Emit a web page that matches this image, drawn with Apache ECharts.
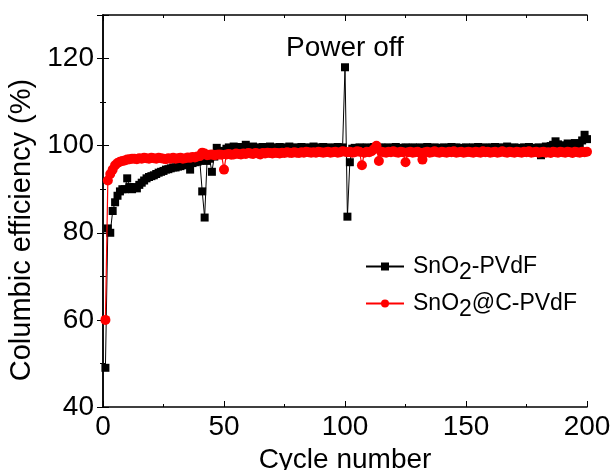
<!DOCTYPE html>
<html>
<head>
<meta charset="utf-8">
<script src="https://cdn.jsdelivr.net/npm/echarts@6/dist/echarts.min.js"></script>
<style>
html, body { margin: 0; padding: 0; background: #fff; }
#main { width: 612px; height: 470px; }
</style>
</head>
<body>
<div id="main"></div>
<script>
// coulombic efficiency (%) per cycle, cycles 1..200
var pvdf = [
  49, 81, 80, 85, 87, 88.5, 89.5, 90, 90, 92.5,
  90.5, 90, 90.5, 90.2, 91, 91.5, 92, 92.5, 92.8, 93,
  93.2, 93.5, 93.8, 94, 94.2, 94.5, 94.6, 94.8, 95, 95,
  95.2, 95.3, 95.5, 95.6, 95.8, 94.5, 96, 96.2, 96.3, 96.5,
  89.5, 83.5, 96.5, 97, 94, 97.5, 99.5, 98.5, 98.5, 98.8,
  99.3, 99.6, 99.2, 99.8, 99.5, 99.4, 99.7, 99.3, 100.2, 99.6,
  99.5, 99.8, 99.4, 99.6, 99.3, 99.7, 99.5, 99.4, 99.8, 99.6,
  99.3, 99.5, 99.7, 99.4, 99.6, 99.5, 99.8, 99.3, 99.6, 99.5,
  99.4, 99.7, 99.5, 99.6, 99.3, 99.5, 99.8, 99.4, 99.6, 99.5,
  99.7, 99.4, 99.5, 99.6, 99.3, 99.5, 99.7, 99.4, 99.6, 118,
  83.7, 96.2, 99.3, 99.5, 99.4, 99.6, 99.5, 99.3, 99.6, 99.4,
  99.5, 99.7, 99.4, 99.5, 99.6, 99.3, 99.5, 99.6, 99.4, 99.5,
  99.7, 99.4, 99.5, 99.3, 99.6, 99.5, 99.4, 99.6, 99.5, 99.3,
  99.6, 99.5, 99.4, 99.7, 99.5, 99.4, 99.6, 99.5, 99.3, 99.5,
  99.6, 99.4, 99.5, 99.7, 99.5, 99.6, 99.4, 99.5, 99.3, 99.6,
  99.5, 99.4, 99.6, 99.5, 99.7, 99.4, 99.5, 99.6, 99.3, 99.5,
  99.6, 99.7, 99.5, 99.4, 99.6, 99.5, 99.8, 99.4, 99.5, 99.6,
  99.3, 99.5, 99.4, 99.6, 99.5, 99.7, 99.4, 99.3, 99.5, 99.6,
  97.8, 99.5, 99.8, 99.6, 99.9, 100.2, 101, 100.3, 99.8, 100.1,
  99.7, 100.5, 99.9, 100.2, 100.6, 99.8, 100.4, 101.2, 102.5, 101.5
];
var carbon = [
  60, 92, 93.5, 94.5, 95.5, 96, 96.3, 96.5, 96.6, 96.8,
  96.9, 97, 97, 96.9, 97.1, 97, 97.2, 97.1, 97, 97.2,
  97.1, 97, 97.2, 97.1, 97, 96.9, 97.1, 97, 97.2, 97,
  97.1, 97.2, 97, 97.1, 97.3, 97.2, 97.4, 97.3, 97.5, 97.6,
  98.4, 98.2, 97.8, 97.9, 98, 97.8, 97.9, 98, 97.9, 94.5,
  98, 98.1, 97.9, 98, 98.2, 98.1, 98, 98.2, 98.1, 98.3,
  98.2, 98.1, 98.3, 98.2, 98, 98.3, 98.2, 98.4, 98.3, 98.2,
  98.4, 98.3, 98.2, 98.4, 98.3, 98.5, 98.4, 98.3, 98.5, 98.4,
  98.3, 98.5, 98.4, 98.6, 98.5, 98.4, 98.5, 98.4, 98.6, 98.5,
  98.4, 98.5, 98.6, 98.4, 98.5, 98.6, 98.4, 98.5, 98.7, 98.6,
  98.5, 98.6, 98.4, 98.5, 98.7, 98.6, 95.5, 98.4, 98.6, 98.5,
  98.7, 99.2, 100, 96.5, 98.6, 98.5, 98.4, 98.6, 98.5, 98.7,
  98.5, 98.4, 98.6, 98.5, 96.2, 98.5, 98.6, 98.4, 98.5, 98.6,
  98.4, 96.8, 98.5, 98.6, 98.4, 98.5, 98.7, 98.5, 98.4, 98.6,
  98.5, 98.4, 98.6, 98.5, 98.7, 98.4, 98.5, 98.6, 98.4, 98.5,
  98.6, 98.5, 98.4, 98.6, 98.5, 98.4, 98.7, 98.5, 98.6, 98.4,
  98.5, 98.6, 98.4, 98.5, 98.7, 98.5, 98.4, 98.6, 98.5, 98.4,
  98.6, 98.5, 98.4, 98.6, 98.5, 98.7, 98.4, 98.5, 98.6, 98.4,
  98.5, 98.6, 98.4, 98.5, 98.3, 98.6, 98.5, 98.4, 98.6, 98.5,
  98.4, 98.6, 98.5, 98.3, 98.6, 98.5, 98.4, 98.6, 98.5, 98.6
];
var seriesNames = ['SnO2-PVdF', 'SnO2@C-PVdF'];

function pairs(arr) {
  var out = [];
  for (var i = 0; i < arr.length; i++) out.push([i + 1, arr[i]]);
  return out;
}

var font = 'Liberation Sans, Arial, sans-serif';
var chart = echarts.init(document.getElementById('main'));

var hiddenAxis = {
  axisLine: { show: true, lineStyle: { color: '#000', width: 1.5 } },
  axisTick: { show: true, inside: true, length: 6, lineStyle: { color: '#000' } },
  minorTick: { show: true, splitNumber: 2, length: 3, lineStyle: { color: '#000' } },
  axisLabel: { show: false },
  splitLine: { show: false }
};

var option = {
  animation: false,
  backgroundColor: '#fff',
  grid: { left: 103, right: 25, top: 15, bottom: 63, outerBoundsMode: 'none', containLabel: false },
  xAxis: [
    {
      type: 'value', min: 0, max: 200, interval: 50, position: 'bottom',
      name: 'Cycle number', nameLocation: 'middle', nameGap: 32,
      nameTextStyle: { color: '#000', fontSize: 28, fontFamily: font },
      axisLine: { show: true, lineStyle: { color: '#000', width: 1.5 } },
      axisTick: { show: true, inside: true, length: 6, lineStyle: { color: '#000' } },
      minorTick: { show: true, splitNumber: 2, length: 3, lineStyle: { color: '#000' } },
      axisLabel: { color: '#000', fontSize: 28, fontFamily: font, margin: 6 },
      splitLine: { show: false }
    },
    Object.assign({ type: 'value', min: 0, max: 200, interval: 50, position: 'top' }, hiddenAxis)
  ],
  yAxis: [
    {
      type: 'value', min: 40, max: 130, interval: 20, position: 'left',
      name: 'Columbic efficiency (%)', nameLocation: 'middle', nameGap: 60,
      nameTextStyle: { color: '#000', fontSize: 29, fontFamily: font, padding: [0, 38, 0, 0] },
      axisLine: { show: true, lineStyle: { color: '#000', width: 1.5 } },
      axisTick: { show: true, inside: true, length: 6, lineStyle: { color: '#000' } },
      minorTick: { show: true, splitNumber: 2, length: 3, lineStyle: { color: '#000' } },
      axisLabel: { color: '#000', fontSize: 28, fontFamily: font, margin: 9, showMaxLabel: false },
      splitLine: { show: false }
    },
    Object.assign({ type: 'value', min: 40, max: 130, interval: 20, position: 'right' }, hiddenAxis)
  ],
  legend: {
    orient: 'vertical', left: 360, top: 250, itemGap: 8,
    itemWidth: 38, itemHeight: 10,
    data: seriesNames,
    formatter: function (name) {
      return name.replace('SnO2', 'SnO{sub|2}');
    },
    textStyle: {
      color: '#000', fontSize: 23, fontFamily: font, padding: [0, 0, 0, 4],
      rich: { sub: { fontSize: 23, fontFamily: font, verticalAlign: 'bottom', padding: [12, 0, 0, 0] } }
    }
  },
  graphic: [
    {
      type: 'text', left: 286, top: 34,
      style: { text: 'Power off', fill: '#000', font: '28px ' + font }
    }
  ],
  series: [
    {
      name: seriesNames[0], type: 'line', data: pairs(pvdf),
      symbol: 'rect', symbolSize: 8,
      itemStyle: { color: '#000' },
      lineStyle: { color: '#000', width: 1 },
      z: 2
    },
    {
      name: seriesNames[1], type: 'line', data: pairs(carbon),
      symbol: 'circle', symbolSize: 10,
      itemStyle: { color: '#ff0000' },
      lineStyle: { color: '#ff0000', width: 1.2 },
      z: 3
    }
  ]
};
chart.setOption(option);
</script>
</body>
</html>
